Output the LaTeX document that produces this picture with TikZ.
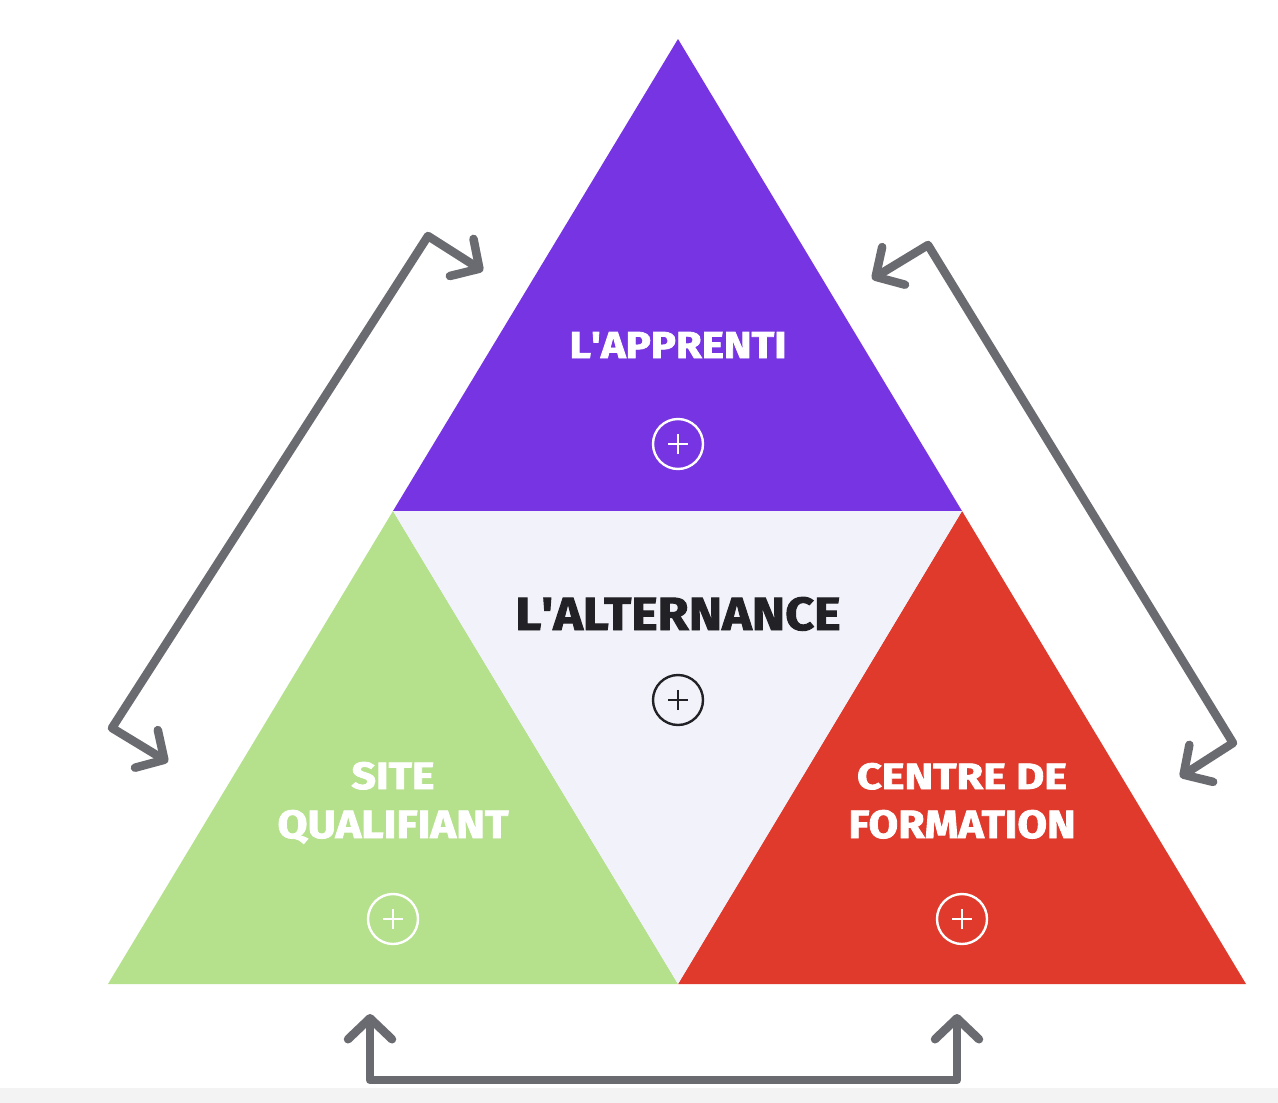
\documentclass[tikz,border=0pt]{standalone}
\usepackage{fontspec}
\setmainfont{Fira Sans}[BoldFeatures={FakeBold=2}]
\usetikzlibrary{arrows.meta}
\definecolor{apprcol}{HTML}{7634E2}
\definecolor{sitecol}{HTML}{B5E08C}
\definecolor{centcol}{HTML}{E03A2D}
\definecolor{midcol}{HTML}{F2F2FB}
\definecolor{arrcol}{HTML}{6A6B70}
\definecolor{darktxt}{HTML}{222226}
\definecolor{bandcol}{HTML}{F3F3F3}
\tikzset{
  lbl/.style={anchor=base, inner sep=0pt, outer sep=0pt},
  plusbtn/.style={circle, minimum size=50pt, inner sep=0pt, draw=#1, line width=2.4pt,
    path picture={\draw[#1, line width=1.8pt]
      ([xshift=-10pt]path picture bounding box.center) -- ([xshift=10pt]path picture bounding box.center)
      ([yshift=-10pt]path picture bounding box.center) -- ([yshift=10pt]path picture bounding box.center);}},
  link/.style={draw=arrcol, line width=8.5pt, line cap=round, line join=round,
    {Straight Barb[length=21pt,width=44pt,round]}-{Straight Barb[length=21pt,width=44pt,round]}}
}
\begin{document}
\begin{tikzpicture}[x=1pt,y=-1pt]
\useasboundingbox (0,0) rectangle (1278,1103);
\fill[white] (0,0) rectangle (1278,1103);
\fill[bandcol] (0,1088) rectangle (1278,1103);
% vertices
\coordinate (T) at (678,39);
\coordinate (ML) at (393,511);
\coordinate (MR) at (962,511);
\coordinate (BL) at (108,984);
\coordinate (BM) at (678,984);
\coordinate (BR) at (1246,984);
% triangles
\fill[apprcol] (T) -- (ML) -- (MR) -- cycle;
\fill[sitecol] (ML) -- (BL) -- (BM) -- cycle;
\fill[centcol] (MR) -- (BM) -- (BR) -- cycle;
\fill[midcol] (ML) -- (MR) -- (BM) -- cycle;
% labels
\node[lbl, text=white] (appr) at (678,358) {\resizebox{217pt}{26pt}{\bfseries L\textquotesingle APPRENTI}};
\node[lbl, text=darktxt] (alt) at (678,630) {\resizebox{325pt}{33pt}{\bfseries L\textquotesingle ALTERNANCE}};
\node[lbl, text=white] (site1) at (393,789) {\resizebox{83pt}{27pt}{\bfseries SITE}};
\node[lbl, text=white] (site2) at (393,838) {\resizebox{231pt}{28pt}{\bfseries QUALIFIANT}};
\node[lbl, text=white] (cent1) at (962,789) {\resizebox{210pt}{26pt}{\bfseries CENTRE DE}};
\node[lbl, text=white] (cent2) at (962,838) {\resizebox{227pt}{28pt}{\bfseries FORMATION}};
% plus buttons
\node[plusbtn=white] (p1) at (678,444) {};
\node[plusbtn=darktxt] (p2) at (678,700) {};
\node[plusbtn=white] (p3) at (393,919) {};
\node[plusbtn=white] (p4) at (962,919) {};
% arrow geometry
\coordinate (la) at (168,762);
\coordinate (lb) at (112,728);
\coordinate (lc) at (428,236);
\coordinate (ld) at (483,271);
\coordinate (ra) at (872,279);
\coordinate (rb) at (928,245);
\coordinate (rc) at (1233,743);
\coordinate (rd) at (1180,777);
\coordinate (ba) at (370,1014);
\coordinate (bb) at (370,1080);
\coordinate (bc) at (957,1080);
\coordinate (bd) at (957,1014);
\draw[link] (la) -- (lb) -- (lc) -- (ld);
\draw[link] (ra) -- (rb) -- (rc) -- (rd);
\draw[link] (ba) -- (bb) -- (bc) -- (bd);
\end{tikzpicture}
\end{document}
